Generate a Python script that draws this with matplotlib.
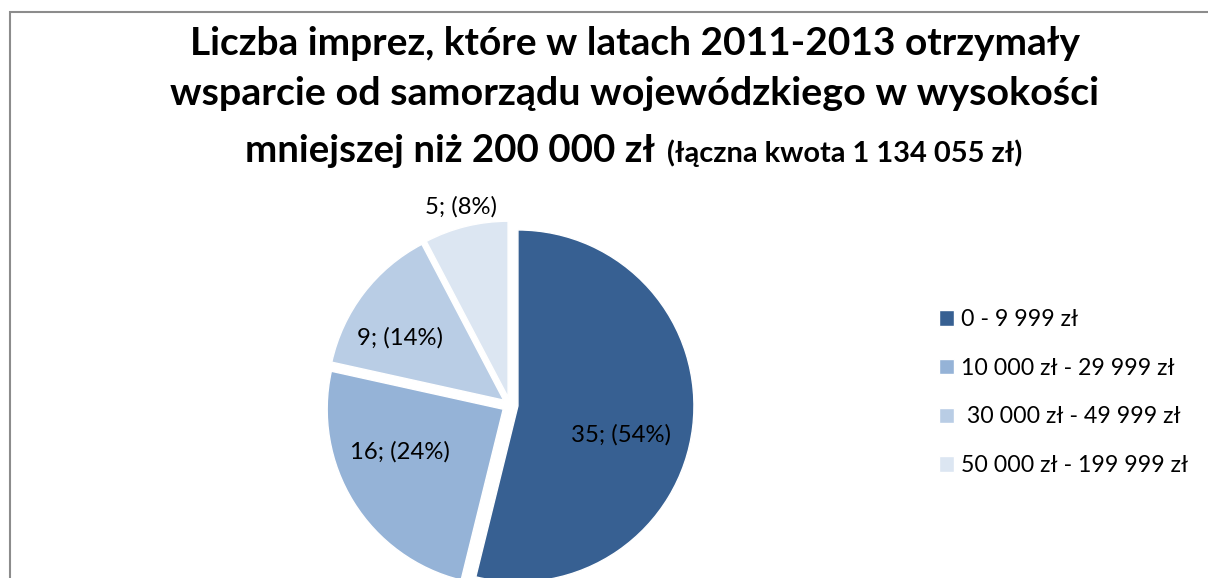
import matplotlib
matplotlib.use("Agg")
import matplotlib.pyplot as plt
from matplotlib.patches import Rectangle
import numpy as np

# ---- data ----
categories = ["0 - 9 999 zł", "10 000 zł - 29 999 zł", " 30 000 zł - 49 999 zł", "50 000 zł - 199 999 zł"]
counts = [35, 16, 9, 5]
pct_labels = ["54%", "24%", "14%", "8%"]
colors = ["#376092", "#95B3D7", "#B9CDE5", "#DCE6F2"]
title_lines = ["Liczba imprez, które w latach 2011-2013 otrzymały",
               "wsparcie od samorządu wojewódzkiego w wysokości"]
title_big3 = "mniejszej niż 200 000 zł"
title_small3 = "(łączna kwota 1 134 055 zł)"

W, H = 1208, 578
DPI = 100
FONT = "Lato"
fig = plt.figure(figsize=(W / DPI, H / DPI), dpi=DPI)
fig.patch.set_facecolor("white")

ax = fig.add_axes([0, 0, 1, 1])
cx, cy, r = 510, H - 405, 176
expl = 8  # pie explode is in data units (pixels here)
wedges, _ = ax.pie(counts, colors=colors, startangle=90, counterclock=False,
                   explode=[expl] * len(counts), center=(cx, cy), radius=r,
                   wedgeprops=dict(edgecolor="white", linewidth=1.0))
ax.set_xlim(0, W)
ax.set_ylim(0, H)
ax.set_aspect("equal")
ax.axis("off")

# data labels positioned relative to each wedge (angle offset, distance as fraction of r)
label_layout = [(-8, 0.65), (-9, 0.68), (6, 0.73), (0, 1.16)]
for w, c, p, (da, d) in zip(wedges, counts, pct_labels, label_layout):
    mid = np.deg2rad((w.theta1 + w.theta2) / 2 + da)
    ax.text(cx + d * r * np.cos(mid), cy + d * r * np.sin(mid), f"{c}; ({p})",
            ha="center", va="center", fontsize=17.2, family=FONT, color="#000000")

renderer = fig.canvas.get_renderer()

def fit(t, target):
    bb = t.get_window_extent(renderer)
    t.set_fontsize(t.get_fontsize() * target / bb.width)

# title lines: (text, x_left, baseline_y_from_top, width)
specs = [(title_lines[0], 190, 55, 890), (title_lines[1], 170, 105, 929)]
for txt, x0, yb, wd in specs:
    t = fig.text(x0 / W, 1 - yb / H, txt, ha="left", va="baseline",
                 fontsize=26, fontweight="bold", family=FONT)
    fit(t, wd)
t = fig.text(245 / W, 1 - 162 / H, title_big3, ha="left", va="baseline",
             fontsize=26, fontweight="bold", family=FONT)
fit(t, 408)
t = fig.text(667 / W, 1 - 162 / H, title_small3, ha="left", va="baseline",
             fontsize=16, fontweight="bold", family=FONT)
fit(t, 355)

# legend
leg = fig.legend(wedges, categories, loc="upper left",
                 bbox_to_anchor=(930 / W, 1 - 300 / H), frameon=False,
                 prop=dict(family=FONT, size=16.7), handlelength=0.65, handleheight=0.65,
                 handletextpad=0.3, labelspacing=1.19, borderaxespad=0)

# chart border (top and left visible)
fig.add_artist(Rectangle((10 / W, -0.05), 1.1, 1 - 12 / H + 0.05, transform=fig.transFigure,
                         fill=False, edgecolor="#8C8C8C", linewidth=1.5))

fig.savefig("out.png", dpi=DPI, facecolor="white")
